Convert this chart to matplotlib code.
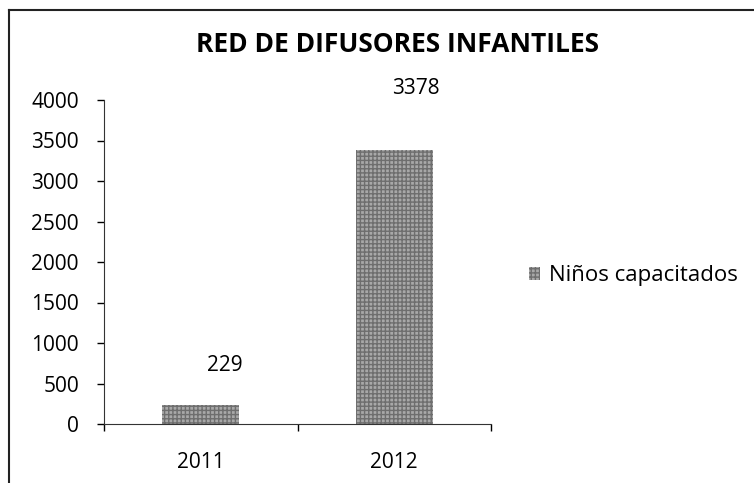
import matplotlib
matplotlib.use("Agg")
import matplotlib.pyplot as plt
from matplotlib.lines import Line2D

categories = ["2011", "2012"]
values = [229, 3378]
series_name = "Niños capacitados"
title = "RED DE DIFUSORES INFANTILES"
yticks = [0, 500, 1000, 1500, 2000, 2500, 3000, 3500, 4000]

plt.rcParams['font.family'] = ['Open Sans', 'DejaVu Sans']

fig = plt.figure(figsize=(7.54, 4.83), dpi=100)
ax = fig.add_axes([104/754, 1-424/483, (491-104)/754, (424-100)/483])

x = list(range(len(categories)))
bars = ax.bar(x, values, width=0.4, color='#a8a8a8', edgecolor='#6e6e6e',
              hatch='++++', linewidth=0, label=series_name)
ax.set_xlim(-0.5, len(categories)-0.5)
ax.set_ylim(0, 4000)
ax.set_yticks(yticks)
ax.set_yticklabels([str(t) for t in yticks], fontsize=15)
ax.set_xticks(x)
ax.set_xticklabels(categories, fontsize=15)
ax.tick_params(axis='y', length=5, pad=13, width=1)
ax.tick_params(axis='x', length=0, pad=20)
ax.set_xticks([-0.5, 0.5, 1.5], minor=True)
ax.tick_params(axis='x', which='minor', length=5, direction='out', width=1)
for s in ['top', 'right']:
    ax.spines[s].set_visible(False)
ax.spines['left'].set_color('#333333')
ax.spines['bottom'].set_color('#333333')

offsets = [(24, 40), (22, 62)]
for xi, v, off in zip(x, values, offsets):
    ax.annotate(str(v), (xi, v), xytext=off, textcoords='offset pixels',
                ha='center', va='center', fontsize=15)

fig.text(397/754, 1-45/483, title, ha='center', va='center', fontsize=19,
         fontweight='bold')

leg = fig.legend(handles=[bars], labels=[series_name], loc='center left',
                 bbox_to_anchor=(518/754, 1-276/483), frameon=False,
                 fontsize=16, handlelength=0.5, handleheight=0.5,
                 handletextpad=0.4, borderpad=0)

fx = 8.5/754
fy = 1 - 9.5/483
fig.add_artist(Line2D([fx, fx], [0, fy], transform=fig.transFigure,
                      color='#222222', linewidth=1.5))
fig.add_artist(Line2D([fx, 1], [fy, fy], transform=fig.transFigure,
                      color='#222222', linewidth=1.5))

fig.savefig("out.png", dpi=100)
